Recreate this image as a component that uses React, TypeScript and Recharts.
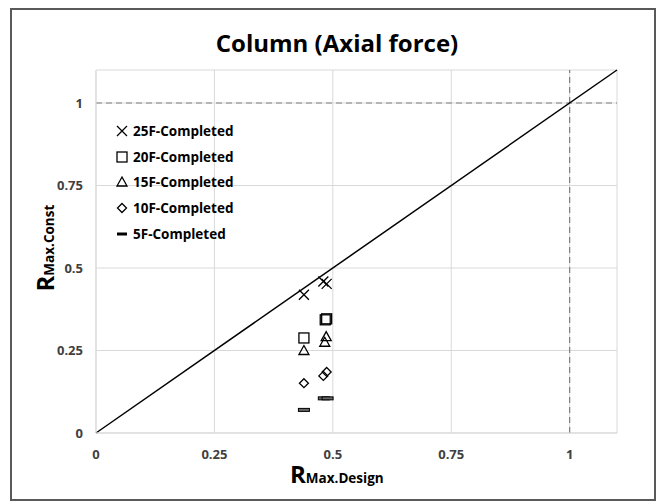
import React from "react";
import {
  CartesianGrid,
  ReferenceLine,
  Scatter,
  ScatterChart,
  XAxis,
  YAxis,
} from "recharts";

const FONT = "'Open Sans', 'Liberation Sans', sans-serif";

// axis ticks (both axes share the same scale)
const axisTicks = [0, 0.25, 0.5, 0.75, 1];
const axisMax = 1.1;

// R_max.design vs R_max.const per building height
const x25F = [0.439, 0.48, 0.487];
const y25F = [0.419, 0.459, 0.452];
const x20F = [0.439, 0.484, 0.487];
const y20F = [0.288, 0.343, 0.346];
const x15F = [0.439, 0.486, 0.483];
const y15F = [0.25, 0.292, 0.275];
const x10F = [0.439, 0.48, 0.487];
const y10F = [0.151, 0.173, 0.185];
const x5F = [0.439, 0.481, 0.489];
const y5F = [0.07, 0.105, 0.105];

const seriesNames = [
  "25F-Completed",
  "20F-Completed",
  "15F-Completed",
  "10F-Completed",
  "5F-Completed",
];

const toPoints = (xs: number[], ys: number[]) => xs.map((x, i) => ({ x, y: ys[i] }));

type MarkProps = { cx?: number; cy?: number };

const CrossMark = ({ cx = 0, cy = 0 }: MarkProps) => (
  <path
    d={`M${cx - 5},${cy - 5}L${cx + 5},${cy + 5}M${cx - 5},${cy + 5}L${cx + 5},${cy - 5}`}
    stroke="#000"
    strokeWidth={1.3}
    fill="none"
  />
);

const SquareMark = ({ cx = 0, cy = 0 }: MarkProps) => (
  <rect x={cx - 5} y={cy - 5} width={10} height={10} stroke="#000" strokeWidth={1.3} fill="none" />
);

const TriangleMark = ({ cx = 0, cy = 0 }: MarkProps) => (
  <path
    d={`M${cx},${cy - 5}L${cx + 5},${cy + 4}L${cx - 5},${cy + 4}Z`}
    stroke="#000"
    strokeWidth={1.3}
    fill="none"
  />
);

const DiamondMark = ({ cx = 0, cy = 0 }: MarkProps) => (
  <path
    d={`M${cx},${cy - 4.5}L${cx + 4.5},${cy}L${cx},${cy + 4.5}L${cx - 4.5},${cy}Z`}
    stroke="#000"
    strokeWidth={1.3}
    fill="none"
  />
);

const DashMark = ({ cx = 0, cy = 0 }: MarkProps) => (
  <rect x={cx - 5.5} y={cy - 1.5} width={11} height={3} stroke="#000" strokeWidth={1} fill="#666" />
);

const markers = [CrossMark, SquareMark, TriangleMark, DiamondMark, DashMark];

const seriesData = [
  toPoints(x25F, y25F),
  toPoints(x20F, y20F),
  toPoints(x15F, y15F),
  toPoints(x10F, y10F),
  toPoints(x5F, y5F),
];

// legend sits inside the plot area, top-left
const LegendBox = () => (
  <div
    style={{
      position: "absolute",
      left: 115,
      top: 118,
      fontFamily: FONT,
      fontWeight: 700,
      fontSize: 13.5,
      color: "#000",
    }}
  >
    {seriesNames.map((name, i) => {
      const Mark = markers[i];
      return (
        <div key={name} style={{ display: "flex", alignItems: "center", height: 25.7 }}>
          <svg width={14} height={14} style={{ marginRight: 4 }}>
            {i === 4 ? (
              <rect x={2} y={5.5} width={10} height={3} fill="#000" />
            ) : (
              <Mark cx={7} cy={7} />
            )}
          </svg>
          <span>{name}</span>
        </div>
      );
    })}
  </div>
);

const XLabel = ({ viewBox }: any) => (
  <text x={viewBox.x + 194} y={483} fontFamily={FONT} fontWeight={700} fill="#000">
    <tspan fontSize={24}>R</tspan>
    <tspan fontSize={13.5}>Max.Design</tspan>
  </text>
);

const YLabel = ({ viewBox }: any) => {
  const y0 = viewBox.y + viewBox.height / 2 + 40;
  return (
    <text
      x={54}
      y={y0}
      transform={`rotate(-90 54 ${y0})`}
      fontFamily={FONT}
      fontWeight={700}
      fill="#000"
    >
      <tspan fontSize={24}>R</tspan>
      <tspan fontSize={13.5}>Max.Const</tspan>
    </text>
  );
};

const tickStyle = { fill: "#404040", fontSize: 13, fontWeight: 700, fontFamily: FONT };

export default function App() {
  return (
    <div style={{ position: "absolute", left: 0, top: 0, width: 660, height: 503, background: "#fff" }}>
      <div
        style={{
          position: "absolute",
          left: 10,
          top: 8,
          width: 642,
          height: 489,
          border: "2px solid #595959",
          boxSizing: "content-box",
        }}
      />
      <div
        style={{
          position: "absolute",
          left: 0,
          width: 660,
          top: 26,
          textAlign: "center",
          fontFamily: FONT,
          fontWeight: 700,
          fontSize: 24,
          color: "#000",
          paddingLeft: 14,
          boxSizing: "border-box",
        }}
      >
        Column (Axial force)
      </div>
      <ScatterChart
        width={660}
        height={503}
        margin={{ top: 70, right: 43, left: 36, bottom: 0 }}
        style={{ position: "absolute", left: 0, top: 0 }}
      >
        <CartesianGrid stroke="#d9d9d9" strokeWidth={1} />
        <XAxis
          type="number"
          dataKey="x"
          domain={[0, axisMax]}
          ticks={axisTicks}
          tickFormatter={(v: number) => String(v)}
          tick={tickStyle}
          tickLine={false}
          tickSize={0}
          tickMargin={17}
          axisLine={{ stroke: "#d9d9d9" }}
          height={70}
          label={{ content: XLabel }}
        />
        <YAxis
          type="number"
          dataKey="y"
          domain={[0, axisMax]}
          ticks={axisTicks}
          tickFormatter={(v: number) => String(v)}
          tick={tickStyle}
          tickLine={false}
          tickSize={0}
          tickMargin={13}
          axisLine={{ stroke: "#d9d9d9" }}
          width={60}
          label={{ content: YLabel }}
        />
        <ReferenceLine y={1} stroke="#7f7f7f" strokeDasharray="6 4" strokeWidth={1.2} />
        <ReferenceLine x={1} stroke="#7f7f7f" strokeDasharray="6 4" strokeWidth={1.2} />
        <ReferenceLine
          segment={[
            { x: 0, y: 0 },
            { x: axisMax, y: axisMax },
          ]}
          stroke="#000"
          strokeWidth={1.5}
        />
        {seriesData.map((data, i) => {
          const Mark = markers[i];
          return (
            <Scatter
              key={seriesNames[i]}
              name={seriesNames[i]}
              data={data}
              isAnimationActive={false}
              shape={(p: any) => <Mark cx={p.cx} cy={p.cy} />}
            />
          );
        })}
      </ScatterChart>
      <LegendBox />
    </div>
  );
}
